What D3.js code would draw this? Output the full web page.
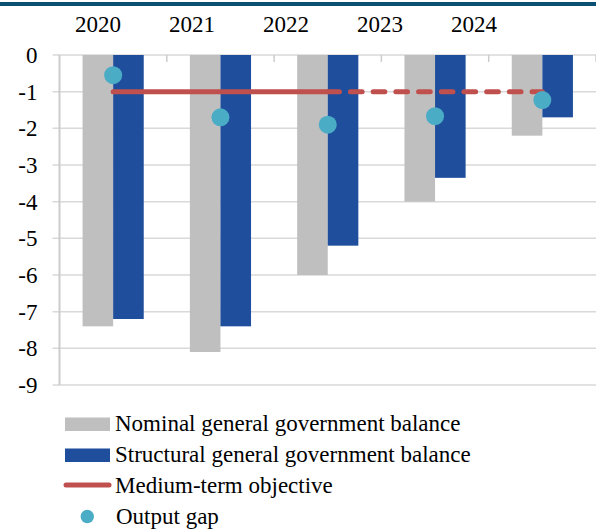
<!DOCTYPE html>
<html>
<head>
<meta charset="utf-8">
<script src="https://cdn.jsdelivr.net/npm/d3@7"></script>
</head>
<body style="margin:0">
<script>
(function (d3) {
  "use strict";

  /***** Data *****/
  var years = ["2020", "2021", "2022", "2023", "2024"];
  var nominalBalance = [-7.4, -8.1, -6.0, -4.0, -2.2];
  var structuralBalance = [-7.2, -7.4, -5.2, -3.35, -1.7];
  var mtoActual = [-1, -1, -1, null, null];
  var mtoPlanned = [null, null, -1, -1, -1];
  var outputGap = [-0.55, -1.7, -1.9, -1.67, -1.23];
  var yTicks = [0, -1, -2, -3, -4, -5, -6, -7, -8, -9];
  var legendLabels = [
    "Nominal general government balance",
    "Structural general government balance",
    "Medium-term objective",
    "Output gap"
  ];

  var colors = {
    nominal: "#bfbfbf",
    structural: "#1f4e9c",
    mto: "#c0504d",
    gap: "#4bacc6",
    grid: "#d9d9d9"
  };
  var font = "Liberation Serif";

  /***** Setup *****/
  var width = 596, height = 531;
  var plot = { left: 59.5, right: 596, top: 55, bottom: 385 };

  var svg = d3.select("body").append("svg")
      .attr("width", width)
      .attr("height", height);

  // band across the top of the page
  svg.append("rect")
      .attr("x", 0).attr("y", 2)
      .attr("width", width).attr("height", 4)
      .attr("fill", "#0b5072");

  /***** Scales *****/
  var xScale = d3.scaleBand()
      .domain(years)
      .range([plot.left, plot.right])
      .paddingInner(0.43)
      .paddingOuter(0.215);

  var seriesScale = d3.scaleBand()
      .domain(["nominal", "structural"])
      .range([0, xScale.bandwidth()]);

  var yScale = d3.scaleLinear()
      .domain([-9, 0])
      .range([plot.bottom, plot.top]);

  var labelScale = d3.scalePoint()
      .domain(years)
      .range([98, 474]);

  var center = function (year) { return xScale(year) + xScale.bandwidth() / 2; };

  /***** Grid *****/
  svg.append("g")
      .selectAll("line")
      .data(yTicks)
      .join("line")
      .attr("x1", plot.left - 7)
      .attr("x2", plot.right)
      .attr("y1", function (d) { return yScale(d); })
      .attr("y2", function (d) { return yScale(d); })
      .attr("stroke", colors.grid)
      .attr("stroke-width", 1.5);

  /***** Y axis *****/
  var yAxis = d3.axisLeft(yScale)
      .tickValues(yTicks)
      .tickFormat(function (d) { return String(d); })
      .tickSize(0)
      .tickPadding(22);

  var yAxisGroup = svg.append("g")
      .attr("transform", "translate(" + plot.left + ",0)")
      .call(yAxis);
  yAxisGroup.select(".domain").remove();
  yAxisGroup.selectAll("text")
      .attr("font-family", font)
      .attr("font-size", 23)
      .attr("fill", "#000");

  svg.append("line")
      .attr("x1", plot.left).attr("x2", plot.left)
      .attr("y1", plot.top).attr("y2", plot.bottom)
      .attr("stroke", "#cccccc")
      .attr("stroke-width", 2);

  // category separators on the top axis
  var step = xScale.step();
  svg.append("g")
      .selectAll("line")
      .data(d3.range(1, years.length + 1))
      .join("line")
      .attr("x1", function (i) { return plot.left + i * step; })
      .attr("x2", function (i) { return plot.left + i * step; })
      .attr("y1", plot.top)
      .attr("y2", plot.top + 7)
      .attr("stroke", "#cccccc")
      .attr("stroke-width", 1.5);

  // year labels
  svg.append("g")
      .selectAll("text")
      .data(years)
      .join("text")
      .attr("x", function (d) { return labelScale(d); })
      .attr("y", 32)
      .attr("text-anchor", "middle")
      .attr("font-family", font)
      .attr("font-size", 23)
      .text(function (d) { return d; });

  /***** Bars *****/
  var barData = [];
  years.forEach(function (y, i) {
    barData.push({ year: y, key: "nominal", value: nominalBalance[i] });
    barData.push({ year: y, key: "structural", value: structuralBalance[i] });
  });

  svg.append("g")
      .selectAll("rect")
      .data(barData)
      .join("rect")
      .attr("x", function (d) { return xScale(d.year) + seriesScale(d.key); })
      .attr("y", yScale(0))
      .attr("width", seriesScale.bandwidth())
      .attr("height", function (d) { return yScale(d.value) - yScale(0); })
      .attr("fill", function (d) { return colors[d.key]; });

  /***** Medium-term objective *****/
  var line = d3.line()
      .defined(function (d) { return d.value !== null; })
      .x(function (d) { return center(d.year); })
      .y(function (d) { return yScale(d.value); });

  var toPoints = function (values) {
    return years.map(function (y, i) { return { year: y, value: values[i] }; });
  };

  svg.append("path")
      .datum(toPoints(mtoActual))
      .attr("d", line)
      .attr("fill", "none")
      .attr("stroke", colors.mto)
      .attr("stroke-width", 5)
      .attr("stroke-linecap", "round");

  svg.append("path")
      .datum(toPoints(mtoPlanned))
      .attr("d", line)
      .attr("fill", "none")
      .attr("stroke", colors.mto)
      .attr("stroke-width", 5)
      .attr("stroke-linecap", "round")
      .attr("stroke-dasharray", "11.7,11");

  /***** Output gap *****/
  svg.append("g")
      .selectAll("circle")
      .data(toPoints(outputGap))
      .join("circle")
      .attr("cx", function (d) { return center(d.year); })
      .attr("cy", function (d) { return yScale(d.value); })
      .attr("r", 9)
      .attr("fill", colors.gap);

  /***** Legend *****/
  var legend = svg.append("g");
  var rowY = [431, 462, 493, 524];

  legend.append("rect")
      .attr("x", 65).attr("y", rowY[0] - 13.5)
      .attr("width", 45).attr("height", 13.5)
      .attr("fill", colors.nominal);
  legend.append("rect")
      .attr("x", 65).attr("y", rowY[1] - 13.5)
      .attr("width", 45).attr("height", 13.5)
      .attr("fill", colors.structural);
  legend.append("line")
      .attr("x1", 66).attr("x2", 109)
      .attr("y1", rowY[2] - 8).attr("y2", rowY[2] - 8)
      .attr("stroke", colors.mto)
      .attr("stroke-width", 5)
      .attr("stroke-linecap", "round");
  legend.append("circle")
      .attr("cx", 87.3).attr("cy", rowY[3] - 7.5)
      .attr("r", 6.7)
      .attr("fill", colors.gap);

  legend.selectAll("text")
      .data(legendLabels)
      .join("text")
      .attr("x", function (d, i) { return i === 3 ? 116 : 115; })
      .attr("y", function (d, i) { return rowY[i]; })
      .attr("font-family", font)
      .attr("font-size", 23)
      .text(function (d) { return d; });

})(d3);
</script>
</body>
</html>
